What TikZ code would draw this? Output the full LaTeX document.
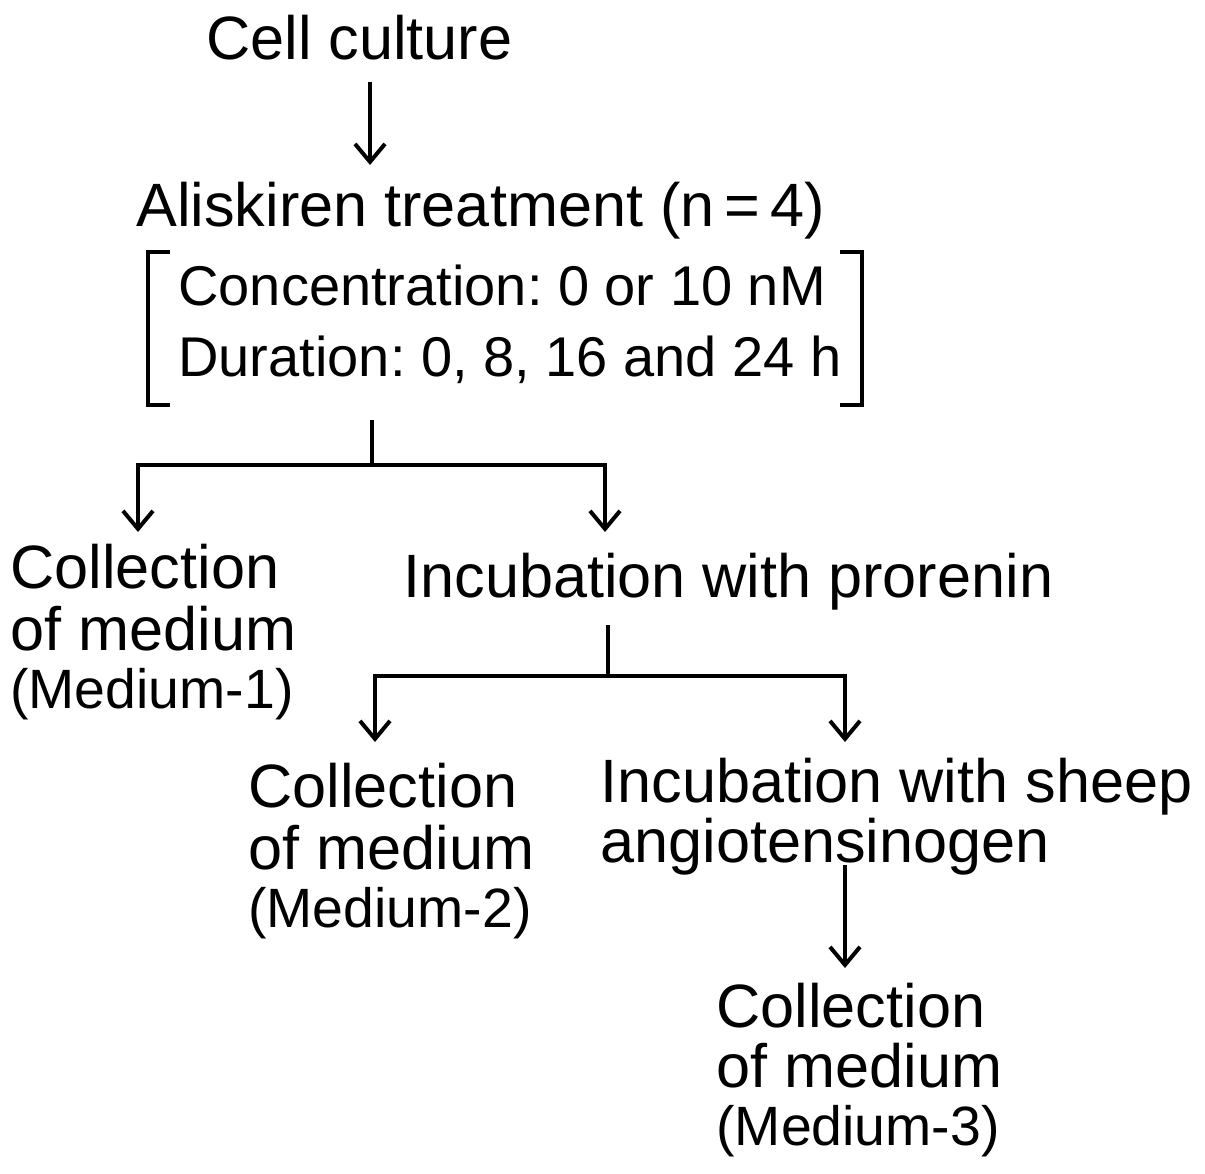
\documentclass[tikz,border=0pt]{standalone}
\usepackage{fontspec}
\setmainfont{Liberation Sans}
\usetikzlibrary{arrows.meta}
\frenchspacing
\begin{document}
\begin{tikzpicture}[x=0.5pt,y=-0.5pt,
  txt/.style={inner sep=0pt, font=\fontsize{30.6}{36}\selectfont, anchor=base west},
  mid/.style={inner sep=0pt, font=\fontsize{28}{34}\selectfont, anchor=base west},
  small/.style={inner sep=0pt, font=\fontsize{27.7}{33}\selectfont, anchor=base west},
  ln/.style={line width=2pt},
  arr/.style={line width=2pt, -{Straight Barb[length=9pt,width=15pt,line width=2pt]}}]
\useasboundingbox (0,0) rectangle (1205,1173);
% texts
\node[txt] (cell) at (206,59) {Cell culture};
\node[txt] (ali) at (136,226) {Aliskiren treatment (n\,=\,4)};
\node[mid] (conc) at (178,305) {Concentration: 0 or 10 nM};
\node[mid] (dur) at (178,376) {Duration: 0, 8, 16 and 24 h};
\node[txt] (c1a) at (10,588) {Collection};
\node[txt] (c1b) at (10,650) {of medium};
\node[small] (c1c) at (10,708) {(Medium-1)};
\node[txt] (inc1) at (403,597) {Incubation with prorenin};
\node[txt] (c2a) at (248,807) {Collection};
\node[txt] (c2b) at (248,869) {of medium};
\node[small] (c2c) at (248,927) {(Medium-2)};
\node[txt] (inc2a) at (600,802) {Incubation with sheep};
\node[txt] (inc2b) at (600,862) {angiotensinogen};
\node[txt] (c3a) at (716,1027) {Collection};
\node[txt] (c3b) at (716,1087) {of medium};
\node[small] (c3c) at (716,1145) {(Medium-3)};
% coordinates
\coordinate (a1s) at (370,82);
\coordinate (a1e) at (370,165);
\coordinate (j0t) at (372,420);
\coordinate (j0) at (372,465);
\coordinate (j0l) at (138,465);
\coordinate (j0r) at (605,465);
\coordinate (e0l) at (138,532);
\coordinate (e0r) at (605,532);
\coordinate (j1t) at (608,625);
\coordinate (j1) at (608,676);
\coordinate (j1l) at (375,676);
\coordinate (j1r) at (845,676);
\coordinate (e1l) at (375,742);
\coordinate (e1r) at (845,742);
\coordinate (a3s) at (845,865);
\coordinate (a3e) at (845,968);
% bracket
\draw[ln] (170,252) -- (148,252) -- (148,405) -- (170,405);
\draw[ln] (840,252) -- (862,252) -- (862,405) -- (840,405);
% connectors
\draw[arr] (a1s) -- (a1e);
\draw[ln] (j0t) -- (j0);
\draw[arr] (j0) -- (j0l) -- (e0l);
\draw[arr] (j0) -- (j0r) -- (e0r);
\draw[ln] (j1t) -- (j1);
\draw[arr] (j1) -- (j1l) -- (e1l);
\draw[arr] (j1) -- (j1r) -- (e1r);
\draw[arr] (a3s) -- (a3e);
\end{tikzpicture}
\end{document}
